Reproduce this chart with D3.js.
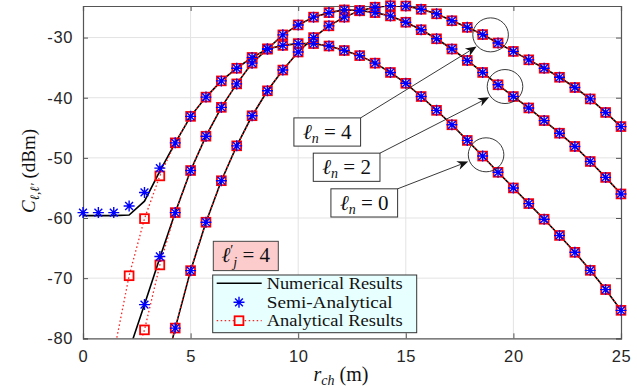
<!DOCTYPE html>
<html>
<head>
<meta charset="utf-8">
<script src="https://cdn.jsdelivr.net/npm/d3@7"></script>
<style>
  body { margin: 0; background: #fff; }
  svg { display: block; }
</style>
</head>
<body>
<svg id="chart" width="637" height="388"></svg>
<script>
// distance axis (m), 36 samples
const rch = [0, 0.714, 1.429, 2.143, 2.857, 3.571, 4.286, 5, 5.714, 6.429, 7.143, 7.857,
  8.571, 9.286, 10, 10.714, 11.429, 12.143, 12.857, 13.571, 14.286, 15, 15.714, 16.429,
  17.143, 17.857, 18.571, 19.286, 20, 20.714, 21.429, 22.143, 22.857, 23.571, 24.286, 25];

// ln = 0
const num0  = [-59.6, -59.6, -59.6, -59.5, -57.2, -52.2, -47.5, -43.1, -39.9, -37.2, -35.1, -33.3,
  -31.9, -31.3, -31.0, -31.0, -31.4, -32.15, -33.0, -34.25, -35.8, -37.6, -39.8, -42.1,
  -44.5, -47.1, -49.7, -52.4, -55.0, -57.6, -60.2, -62.9, -65.7, -68.7, -71.9, -75.35];
const semi0 = [-59.1, -59.1, -59.1, -58.0, -55.75, -51.7, -47.5, -43.1, -39.9, -37.2, -35.1, -33.3,
  -31.9, -31.3, -31.0, -31.0, -31.4, -32.15, -33.0, -34.25, -35.8, -37.6, -39.8, -42.1,
  -44.5, -47.1, -49.7, -52.4, -55.0, -57.6, -60.2, -62.9, -65.7, -68.7, -71.9, -75.35];
const ana0  = [null, null, -82.5, -69.6, -60.1, -53.0, -47.5, -43.1, -39.9, -37.2, -35.1, -33.3,
  -31.9, -31.3, -31.0, -31.0, -31.4, -32.15, -33.0, -34.25, -35.8, -37.6, -39.8, -42.1,
  -44.5, -47.1, -49.7, -52.4, -55.0, -57.6, -60.2, -62.9, -65.7, -68.7, -71.9, -75.35];

// ln = 2
const num2  = [null, null, null, -82.0, -74.4, -66.6, -59.1, -52.1, -46.4, -41.6, -37.7, -34.25,
  -31.9, -29.55, -27.9, -26.6, -25.85, -25.4, -25.5, -25.85, -26.4, -27.45, -28.7, -30.2,
  -31.9, -33.8, -35.8, -37.85, -39.8, -41.7, -43.8, -45.9, -48.1, -50.6, -53.25, -56.0];
const semi2 = [null, null, null, -82.0, -74.4, -66.4, -59.1, -52.1, -46.4, -41.6, -37.7, -34.25,
  -31.9, -29.55, -27.9, -26.6, -25.85, -25.4, -25.5, -25.85, -26.4, -27.45, -28.7, -30.2,
  -31.9, -33.8, -35.8, -37.85, -39.8, -41.7, -43.8, -45.9, -48.1, -50.6, -53.25, -56.0];
const ana2  = [null, null, null, -86.5, -78.6, -67.8, -59.1, -52.1, -46.4, -41.6, -37.7, -34.25,
  -31.9, -29.55, -27.9, -26.6, -25.85, -25.4, -25.5, -25.85, -26.4, -27.45, -28.7, -30.2,
  -31.9, -33.8, -35.8, -37.85, -39.8, -41.7, -43.8, -45.9, -48.1, -50.6, -53.25, -56.0];

// ln = 4
const num4  = [null, null, null, null, null, -88.5, -78.3, -68.75, -60.7, -53.8, -48.0, -43.0,
  -38.85, -35.4, -32.4, -30.0, -28.05, -26.6, -25.55, -24.95, -24.7, -24.75, -25.3, -26.05,
  -27.2, -28.3, -29.5, -30.9, -32.3, -33.7, -35.1, -36.6, -38.3, -40.2, -42.45, -44.8];
const semi4 = num4.slice();
const ana4  = num4.slice();

const xTicks = [0, 5, 10, 15, 20, 25];
const yTicks = [-80, -70, -60, -50, -40, -30];
const legendLabels = ["Numerical Results", "Semi-Analytical", "Analytical Results"];

// ln annotations: label, label box centre and circled point (data units)
const lnLabels = ["4", "2", "0"];
const lnBoxX = [11.35, 12.25, 13.07];
const lnBoxY = [-45.7, -51.56, -57.49];
const lnArrowX = [18.29, 18.87, 17.9];
const lnArrowY = [-31.5, -39.93, -50.6];
const lnCircleX = [18.94, 19.61, 18.73];
const lnCircleY = [-29.55, -38.14, -49.49];

const svg = d3.select("#chart");
const pLeft = 83, pRight = 621, pTop = 6, pBottom = 338.3;

const x = d3.scaleLinear().domain([0, 25]).range([pLeft, pRight]);
const y = d3.scaleLinear().domain([-80, -24.75]).range([pBottom, pTop]);

const serif = "'Liberation Serif','DejaVu Serif',serif";
const sans = "'Liberation Sans',Arial,sans-serif";
const axisColor = "#555";

svg.append("defs").append("clipPath").attr("id", "plotclip")
  .append("rect").attr("x", pLeft).attr("y", pTop)
  .attr("width", pRight - pLeft).attr("height", pBottom - pTop);

// grid
const grid = svg.append("g");
grid.selectAll(".gx").data(xTicks.slice(1, -1)).enter().append("line")
  .attr("x1", d => x(d)).attr("x2", d => x(d))
  .attr("y1", pTop).attr("y2", pBottom)
  .attr("stroke", "#e3e3e3").attr("stroke-width", 1);
grid.selectAll(".gy").data(yTicks.slice(1)).enter().append("line")
  .attr("x1", pLeft).attr("x2", pRight)
  .attr("y1", d => y(d)).attr("y2", d => y(d))
  .attr("stroke", "#e3e3e3").attr("stroke-width", 1);

// axes
svg.append("g").attr("transform", `translate(0,${pBottom})`)
  .call(d3.axisBottom(x).tickValues(xTicks).tickSize(-5).tickPadding(12).tickFormat(d3.format("d")));
svg.append("g").attr("transform", `translate(${pLeft},0)`)
  .call(d3.axisLeft(y).tickValues(yTicks).tickSize(-5).tickPadding(10).tickFormat(d => d));
svg.append("g").attr("transform", `translate(0,${pTop})`)
  .call(d3.axisTop(x).tickValues(xTicks).tickSize(-5).tickFormat(""));
svg.append("g").attr("transform", `translate(${pRight},0)`)
  .call(d3.axisRight(y).tickValues(yTicks).tickSize(-5).tickFormat(""));

svg.selectAll(".domain").attr("stroke", axisColor).attr("stroke-width", 1.2);
svg.selectAll(".tick line").attr("stroke", axisColor);
svg.selectAll(".tick text").attr("fill", "#262626")
  .style("font-family", sans).style("font-size", "16.5px").style("letter-spacing", "0.6px");

// curves
const series = [
  { num: num0, semi: semi0, ana: ana0 },
  { num: num2, semi: semi2, ana: ana2 },
  { num: num4, semi: semi4, ana: ana4 }
];

const line = d3.line()
  .defined(d => d[1] !== null)
  .x(d => x(d[0])).y(d => y(d[1]));

const plot = svg.append("g");
const starPath = "M-5.5,0L5.5,0M0,-5.5L0,5.5M-3.9,-3.9L3.9,3.9M-3.9,3.9L3.9,-3.9";

for (let i = 0; i < series.length; i++) {
  let s = series[i];
  plot.append("path").datum(rch.map((r, k) => [r, s.num[k]]))
    .attr("d", line).attr("clip-path", "url(#plotclip)")
    .attr("fill", "none").attr("stroke", "#000").attr("stroke-width", 1.6);
  plot.append("path").datum(rch.map((r, k) => [r, s.ana[k]]))
    .attr("d", line).attr("clip-path", "url(#plotclip)")
    .attr("fill", "none").attr("stroke", "#ff2020").attr("stroke-width", 1.3)
    .attr("stroke-dasharray", "1.5,2.5");
}

for (let i = 0; i < series.length; i++) {
  let s = series[i];
  let sq = rch.map((r, k) => [r, s.ana[k]]).filter(d => d[1] !== null && d[1] >= -80);
  plot.selectAll(null).data(sq).enter().append("rect")
    .attr("x", d => x(d[0]) - 4.4).attr("y", d => y(d[1]) - 4.4)
    .attr("width", 8.8).attr("height", 8.8)
    .attr("fill", "none").attr("stroke", "#ff0000").attr("stroke-width", 1.8);
}
for (let i = 0; i < series.length; i++) {
  let s = series[i];
  let st = rch.map((r, k) => [r, s.semi[k]]).filter(d => d[1] !== null && d[1] >= -80);
  plot.selectAll(null).data(st).enter().append("path")
    .attr("transform", d => `translate(${x(d[0])},${y(d[1])})`)
    .attr("d", starPath).attr("fill", "none")
    .attr("stroke", "#0000ff").attr("stroke-width", 1.4);
}

// annotation circles, arrows and label boxes
const ann = svg.append("g");
for (let i = 0; i < lnLabels.length; i++) {
  ann.append("ellipse")
    .attr("cx", x(lnCircleX[i])).attr("cy", y(lnCircleY[i]))
    .attr("rx", 17.8).attr("ry", 17)
    .attr("fill", "none").attr("stroke", "#222").attr("stroke-width", 0.9);

  let bw = 66.7, bh = 28.2;
  let bx = x(lnBoxX[i]) - bw / 2, by = y(lnBoxY[i]) - bh / 2;
  let x1 = bx + bw, y1 = by;
  let x2 = x(lnArrowX[i]), y2 = y(lnArrowY[i]);
  let ang = Math.atan2(y2 - y1, x2 - x1);
  let hl = 11, hw = 4.5;
  ann.append("line")
    .attr("x1", x1).attr("y1", y1)
    .attr("x2", x2 - 8 * Math.cos(ang)).attr("y2", y2 - 8 * Math.sin(ang))
    .attr("stroke", "#222").attr("stroke-width", 0.9);
  let pts = [
    [0, 0], [-hl, -hw], [-hl * 0.7, 0], [-hl, hw]
  ].map(p => [x2 + p[0] * Math.cos(ang) - p[1] * Math.sin(ang),
              y2 + p[0] * Math.sin(ang) + p[1] * Math.cos(ang)]);
  ann.append("path").attr("d", "M" + pts.join("L") + "Z").attr("fill", "#111");

  ann.append("rect").attr("x", bx).attr("y", by).attr("width", bw).attr("height", bh)
    .attr("fill", "#fff").attr("stroke", "#333").attr("stroke-width", 1);
  let t = ann.append("text").attr("x", bx + bw / 2).attr("y", by + bh / 2 + 7)
    .attr("text-anchor", "middle").style("font-family", serif).style("font-size", "21px")
    .attr("fill", "#111");
  t.append("tspan").style("font-style", "italic").text("ℓ");
  t.append("tspan").style("font-style", "italic").style("font-size", "14px").attr("dy", 4).text("n");
  t.append("tspan").attr("dy", -4).text(" = " + lnLabels[i]);
}

// l'_j box
const ljX = 7.565, ljY = -66.31;
const ljw = 65, ljh = 29.3;
const ljx = x(ljX) - ljw / 2, ljy = y(ljY) - ljh / 2;
ann.append("rect").attr("x", ljx).attr("y", ljy).attr("width", ljw).attr("height", ljh)
  .attr("fill", "#fccccc").attr("stroke", "#444").attr("stroke-width", 1);
const lt = ann.append("text").attr("x", ljx + ljw / 2).attr("y", ljy + ljh / 2 + 6)
  .attr("text-anchor", "middle").style("font-family", serif).style("font-size", "21px")
  .attr("fill", "#111");
lt.append("tspan").style("font-style", "italic").text("ℓ");
lt.append("tspan").style("font-size", "14px").attr("dy", -7).text("′");
lt.append("tspan").style("font-style", "italic").style("font-size", "14px")
  .attr("dx", 0).attr("dy", 12).text("j");
lt.append("tspan").attr("dy", -5).text(" = 4");

// legend
const lg = svg.append("g").attr("transform", "translate(212.7,275)");
lg.append("rect").attr("width", 204).attr("height", 57.7)
  .attr("fill", "#e8ffff").attr("stroke", "#333").attr("stroke-width", 1);
const rowY = [8.3, 27.3, 45.7];
const legendWidths = [136, 126, 136];
lg.append("line").attr("x1", 4).attr("x2", 49).attr("y1", rowY[0]).attr("y2", rowY[0])
  .attr("stroke", "#000").attr("stroke-width", 1.6);
lg.append("path").attr("transform", `translate(26.3,${rowY[1]})`).attr("d", starPath)
  .attr("fill", "none").attr("stroke", "#0000ff").attr("stroke-width", 1.4);
lg.append("line").attr("x1", 4).attr("x2", 49).attr("y1", rowY[2]).attr("y2", rowY[2])
  .attr("stroke", "#ff2020").attr("stroke-width", 1.3).attr("stroke-dasharray", "1.5,2.5");
lg.append("rect").attr("x", 26.3 - 4.4).attr("y", rowY[2] - 4.4).attr("width", 8.8).attr("height", 8.8)
  .attr("fill", "#e8ffff").attr("stroke", "#ff0000").attr("stroke-width", 1.8);
lg.selectAll(".lt").data(legendLabels).enter().append("text")
  .attr("x", 54).attr("y", (d, i) => rowY[i] + 5.5)
  .attr("textLength", (d, i) => legendWidths[i]).attr("lengthAdjust", "spacingAndGlyphs")
  .style("font-family", serif).style("font-size", "16.5px").attr("fill", "#111")
  .text(d => d);

// axis titles
const yl = svg.append("text")
  .attr("transform", "translate(35,171) rotate(-90)")
  .attr("text-anchor", "middle").style("font-family", serif).style("font-size", "19px")
  .attr("fill", "#111");
yl.append("tspan").style("font-style", "italic").text("C");
yl.append("tspan").style("font-style", "italic").style("font-size", "13px").attr("dy", 4).text("ℓ,ℓ′");
yl.append("tspan").attr("dy", -4).text(" (dBm)");

const xl = svg.append("text")
  .attr("x", 341).attr("y", 381)
  .attr("text-anchor", "middle").style("font-family", serif).style("font-size", "20px")
  .attr("fill", "#111");
xl.append("tspan").style("font-style", "italic").text("r");
xl.append("tspan").style("font-style", "italic").style("font-size", "14px").attr("dy", 4).text("ch");
xl.append("tspan").attr("dy", -4).text(" (m)");
</script>
</body>
</html>
